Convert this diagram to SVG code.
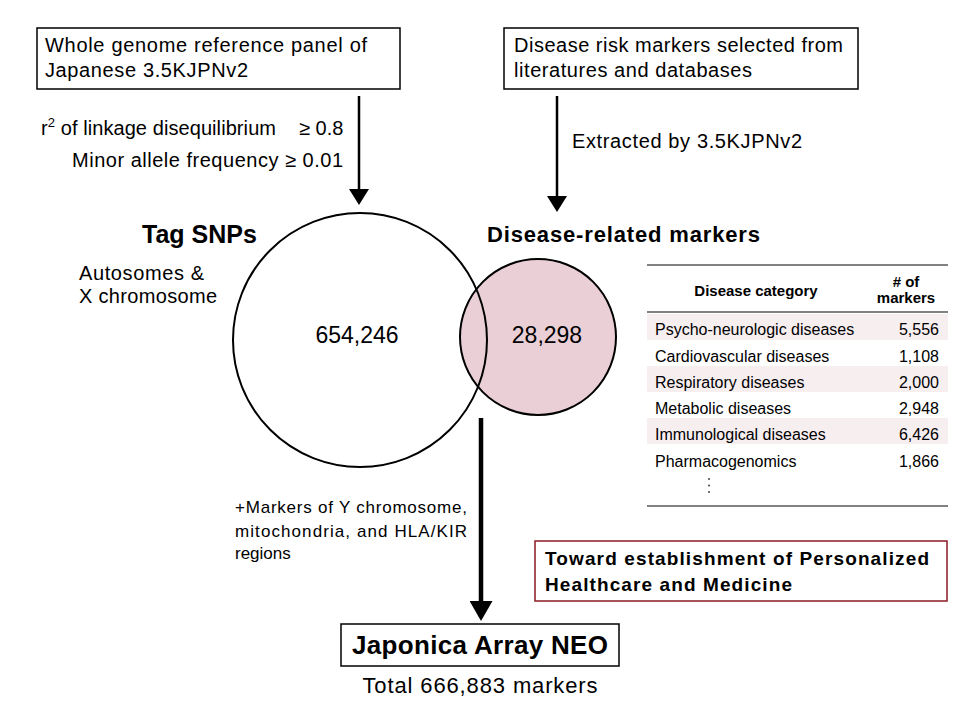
<svg xmlns="http://www.w3.org/2000/svg" width="960" height="720" viewBox="0 0 960 720">
<style>
text{font-family:"Liberation Sans",Arial,sans-serif;fill:#000}
.t20{font-size:20px}
.b{font-weight:bold}
.box{fill:#fff;stroke:#000;stroke-width:1.5}
.rule{stroke:#595959;stroke-width:1.5}
.stripe{fill:#F7EEF0}
.tb{font-size:16px}
.th{font-size:15px;font-weight:bold}
.arr{stroke:#000;stroke-width:2.5;fill:none}
.arrB{stroke:#000;stroke-width:4.5;fill:none}
</style>
<defs>
<marker id="ah" markerUnits="userSpaceOnUse" markerWidth="16" markerHeight="20" refX="8" refY="10" orient="auto" viewBox="0 0 16 20">
<path d="M0,0 L16,10 L0,20 Z" fill="#000"/>
</marker>
<marker id="ahB" markerUnits="userSpaceOnUse" markerWidth="20" markerHeight="23" refX="10" refY="11.5" orient="auto" viewBox="0 0 20 23">
<path d="M0,0 L20,11.5 L0,23 Z" fill="#000"/>
</marker>
</defs>
<rect width="960" height="720" fill="#fff"/>

<g id="connectors">
<line class="arr" x1="359" y1="96" x2="359" y2="197" marker-end="url(#ah)"/>
<line class="arr" x1="557" y1="96" x2="557" y2="204" marker-end="url(#ah)"/>
<line class="arrB" x1="481" y1="418" x2="481" y2="611" marker-end="url(#ahB)"/>
</g>

<g id="panel-box">
<rect class="box" x="37" y="28" width="363" height="61"/>
<text class="t20" x="45" y="52" textLength="322" lengthAdjust="spacing">Whole genome reference panel of</text>
<text class="t20" x="45" y="77" textLength="203" lengthAdjust="spacing">Japanese 3.5KJPNv2</text>
</g>

<g id="risk-box">
<rect class="box" x="504" y="28" width="354" height="61"/>
<text class="t20" x="514" y="52" textLength="329" lengthAdjust="spacing">Disease risk markers selected from</text>
<text class="t20" x="514" y="77" textLength="238" lengthAdjust="spacing">literatures and databases</text>
</g>

<g id="criteria">
<text class="t20" x="41" y="135" textLength="235" lengthAdjust="spacing">r<tspan font-size="13" dy="-8">2</tspan><tspan dy="8"> of linkage disequilibrium</tspan></text>
<text class="t20" x="299" y="135">≥ 0.8</text>
<text class="t20" x="72" y="167" textLength="271" lengthAdjust="spacing">Minor allele frequency ≥ 0.01</text>
</g>

<g id="extract-label">
<text class="t20" x="572" y="148" textLength="230" lengthAdjust="spacing">Extracted by 3.5KJPNv2</text>
</g>

<g id="disease-circle">
<circle cx="538" cy="337" r="78" fill="#EACFD6" stroke="#000" stroke-width="2"/>
<text x="547" y="343" font-size="23" text-anchor="middle">28,298</text>
</g>

<g id="tag-circle">
<circle cx="360" cy="340" r="127" fill="none" stroke="#000" stroke-width="2"/>
<text x="357" y="343" font-size="23" text-anchor="middle">654,246</text>
</g>

<g id="tag-label">
<text class="b" x="142" y="243" font-size="25">Tag SNPs</text>
<text class="t20" x="79" y="280" textLength="125" lengthAdjust="spacing">Autosomes &amp;</text>
<text class="t20" x="79" y="303" textLength="138" lengthAdjust="spacing">X chromosome</text>
</g>

<g id="disease-label">
<text class="b" x="487" y="242" font-size="22" textLength="273" lengthAdjust="spacing">Disease-related markers</text>
</g>

<g id="table">
<line class="rule" x1="647" y1="265" x2="948" y2="265"/>
<text class="th" x="756" y="296" text-anchor="middle">Disease category</text>
<text class="th" x="906" y="287" text-anchor="middle"># of</text>
<text class="th" x="906" y="303" text-anchor="middle">markers</text>
<line class="rule" x1="647" y1="312" x2="948" y2="312"/>
<rect class="stripe" x="647" y="314" width="301" height="26"/>
<rect class="stripe" x="647" y="366" width="301" height="26"/>
<rect class="stripe" x="647" y="418" width="301" height="26"/>
<g class="tb">
<text class="tb" x="655" y="335">Psycho-neurologic diseases</text>
<text class="tb" x="939" y="335" text-anchor="end">5,556</text>
<text class="tb" x="655" y="362">Cardiovascular diseases</text>
<text class="tb" x="939" y="362" text-anchor="end">1,108</text>
<text class="tb" x="655" y="388">Respiratory diseases</text>
<text class="tb" x="939" y="388" text-anchor="end">2,000</text>
<text class="tb" x="655" y="414">Metabolic diseases</text>
<text class="tb" x="939" y="414" text-anchor="end">2,948</text>
<text class="tb" x="655" y="440">Immunological diseases</text>
<text class="tb" x="939" y="440" text-anchor="end">6,426</text>
<text class="tb" x="655" y="467">Pharmacogenomics</text>
<text class="tb" x="939" y="467" text-anchor="end">1,866</text>
</g>
<g fill="#444">
<circle cx="709" cy="479" r="1"/>
<circle cx="709" cy="485.5" r="1"/>
<circle cx="709" cy="492" r="1"/>
</g>
<line class="rule" x1="647" y1="506" x2="948" y2="506"/>
</g>

<g id="extra-label">
<text x="235" y="513" font-size="17" textLength="232" lengthAdjust="spacing">+Markers of Y chromosome,</text>
<text x="235" y="537" font-size="17" textLength="232" lengthAdjust="spacing">mitochondria,  and  HLA/KIR</text>
<text x="235" y="559" font-size="17">regions</text>
</g>

<g id="goal-box">
<rect x="535" y="541" width="412" height="60" fill="#fff" stroke="#8B1A22" stroke-width="1.5"/>
<text class="b" x="545" y="565" font-size="19" textLength="384" lengthAdjust="spacing">Toward establishment of Personalized</text>
<text class="b" x="545" y="591" font-size="19" textLength="247" lengthAdjust="spacing">Healthcare and Medicine</text>
</g>

<g id="japonica-box">
<rect class="box" x="341" y="624" width="278" height="42"/>
<text class="b" x="480" y="654" font-size="26" text-anchor="middle" textLength="256" lengthAdjust="spacing">Japonica Array NEO</text>
</g>

<g id="total-label">
<text x="480" y="693" font-size="22" text-anchor="middle" textLength="235" lengthAdjust="spacing">Total 666,883 markers</text>
</g>
</svg>
